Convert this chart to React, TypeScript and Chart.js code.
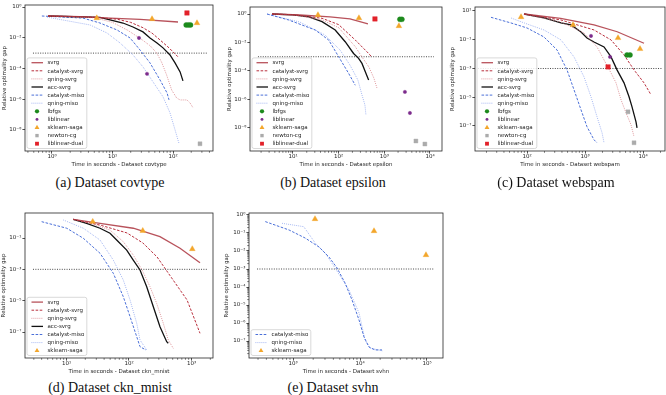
import { useEffect, useRef } from "react";
import { Chart, registerables } from "chart.js";

Chart.register(...registerables);

type Pt = [number, number];

// ---------- covtype: time in seconds -> relative optimality gap ----------
const covSvrg: Pt[] = [[0.86, 0.26], [2.9, 0.24], [9.1, 0.19], [28.5, 0.155], [121, 0.106]];
const covCatSvrg: Pt[] = [[0.86, 0.26], [5, 0.22], [12, 0.16], [20, 0.1], [31.9, 0.045], [45, 0.02], [61, 7.2e-3], [85.9, 2.2e-3], [121, 5.7e-4]];
const covQnSvrg: Pt[] = [[0.86, 0.26], [5, 0.2], [10, 0.1], [18, 0.03], [30, 8e-3], [42, 3e-3], [54, 1e-3], [65, 2.5e-4], [78, 4e-5], [95, 4e-6], [115, 1.2e-6], [131, 9e-7], [170, 9e-7], [191, 5.8e-7], [214, 2.8e-7]];
const covAccSvrg: Pt[] = [[0.86, 0.26], [6.2, 0.21], [9.1, 0.143], [14.9, 0.091], [21.8, 0.05], [31.9, 0.024], [41.7, 9.7e-3], [54.4, 4.6e-3], [68.4, 2.2e-3], [89.2, 7.6e-4], [108, 2.3e-4], [131, 6e-5], [146, 1.57e-5]];
const covCatMiso: Pt[] = [[0.68, 0.26], [3.25, 0.19], [6.2, 0.091], [11.9, 0.032], [19.5, 9.7e-3], [28.5, 1.6e-3], [41.7, 2.3e-4], [61, 1.8e-5], [79.6, 2.6e-6], [85.9, 9.1e-7]];
const covQnMiso: Pt[] = [[0.83, 0.22], [4.25, 0.068], [8.1, 0.0205], [13.3, 4.6e-3], [21.8, 7.6e-4], [31.9, 1.27e-4], [46.7, 1.35e-5], [68.4, 1.43e-6], [89.2, 1.3e-7], [108, 1.03e-8], [126, 1.27e-9]];
const covLbfgs: Pt[] = [[165, 0.068], [180, 0.068], [195, 0.068]];
const covLiblinear: Pt[] = [[27.4, 9.7e-3], [37.2, 4.5e-5]];
const covSaga: Pt[] = [[5.5, 0.19], [45, 0.166], [249, 0.091]];
const covNewton: Pt[] = [[279, 1.27e-9]];
const covLibDual: Pt[] = [[170, 0.41]];
const covTarget: Pt[] = [[0.485, 1e-3], [379, 1e-3]];

// ---------- epsilon ----------
const epsSvrg: Pt[] = [[3.47, 1.0], [14.2, 0.85], [64.6, 0.62], [177, 0.45], [438, 0.2]];
const epsCatSvrg: Pt[] = [[3.47, 1.0], [10, 0.9], [43.2, 0.5], [100, 0.18], [231, 0.015], [453, 1.7e-3], [535, 9.3e-4]];
const epsQnSvrg: Pt[] = [[3.47, 1.0], [10, 0.88], [43.2, 0.38], [100, 0.11], [231, 5.1e-3], [324, 9.6e-4], [460, 1.9e-4], [590, 3.2e-5], [689, 6.4e-6]];
const epsAccSvrg: Pt[] = [[3.47, 1.0], [10, 0.88], [22.4, 0.62], [43.2, 0.29], [84, 0.075], [139, 0.0113], [212, 1.7e-3], [273, 7.7e-4], [324, 3.4e-4], [383, 9e-5], [453, 2.3e-5]];
const epsCatMiso: Pt[] = [[2.7, 1.0], [8.05, 0.38], [30.8, 0.075], [60.4, 0.015], [100, 1e-3], [165, 6.9e-5], [231, 1e-5]];
const epsQnMiso: Pt[] = [[2.7, 1.0], [14.2, 0.27], [50.1, 0.034], [107, 3e-3], [177, 2.6e-4], [264, 2.3e-5], [324, 2.1e-6], [376, 4.1e-7], [396, 8.2e-8]];
const epsLbfgs: Pt[] = [[2193, 0.42], [2427, 0.42]];
const epsLiblinear: Pt[] = [[2823, 3.4e-6], [3634, 1.13e-7]];
const epsSaga: Pt[] = [[35.2, 0.85], [278, 0.52], [2086, 0.144]];
const epsNewton: Pt[] = [[4914, 1.22e-9], [7727, 7.5e-10]];
const epsLibDual: Pt[] = [[623, 0.45]];
const epsTarget: Pt[] = [[1.71, 1e-3], [12170, 1e-3]];

// ---------- webspam ----------
const spamSvrg: Pt[] = [[88.7, 6.19], [380, 3.1], [1429, 1.07], [3590, 0.36], [10400, 0.057]];
const spamCatSvrg: Pt[] = [[88.7, 6.19], [385, 2.37], [1429, 0.48], [2808, 0.097], [4703, 8.8e-3], [6998, 8e-4], [10400, 1e-4], [13740, 1.47e-5]];
const spamQnSvrg: Pt[] = [[88.7, 6.19], [385, 1.72], [961, 0.297], [1610, 0.0316], [2127, 3.95e-3], [2808, 4.9e-4], [3424, 1e-4], [4178, 6.6e-6], [5094, 8.3e-7], [6211, 1.21e-7], [6998, 1.78e-8]];
const spamAccSvrg: Pt[] = [[88.7, 6.19], [196, 3.27], [385, 1.47], [574, 1.07], [853, 0.348], [1082, 0.133], [1429, 0.07], [2127, 0.0316], [2808, 6.4e-3], [3562, 8e-4], [4703, 1e-4], [5737, 1.07e-5], [6462, 2.15e-6], [7570, 1.96e-7], [7880, 7.5e-8]];
const spamCatMiso: Pt[] = [[23.9, 3.65], [53, 1.47], [100, 0.66], [196, 0.156], [329, 0.0196], [489, 8e-4], [646, 3.3e-5], [853, 1.33e-6], [1082, 8.8e-8], [1429, 1.1e-8], [1610, 6.8e-9]];
const spamQnMiso: Pt[] = [[53, 3.27], [100, 1.25], [196, 0.48], [385, 0.097], [646, 6.4e-3], [961, 2.6e-4], [1268, 1.07e-5], [1610, 4.4e-7], [1965, 3.4e-8], [2127, 6.8e-9]];
const spamLbfgs: Pt[] = [[5298, 8.8e-3], [5969, 8.8e-3]];
const spamLiblinear: Pt[] = [[1268, 0.184], [2700, 6.4e-3]];
const spamSaga: Pt[] = [[78.9, 3.83], [621, 1.07], [3706, 0.133], [8878, 0.023]];
const spamNewton: Pt[] = [[5513, 9.7e-7], [6998, 6.8e-9]];
const spamLibDual: Pt[] = [[2495, 1.29e-3]];
const spamTarget: Pt[] = [[14.3, 1e-3], [21300, 1e-3]];

// ---------- ckn_mnist ----------
const mnSvrg: Pt[] = [[12.8, 1.56], [34.4, 0.87], [117, 0.42], [313, 0.121], [655, 0.022], [1368, 2.65e-3]];
const mnCatSvrg: Pt[] = [[12.8, 1.56], [34.4, 0.67], [92.9, 0.21], [167, 0.048], [281, 6.2e-3], [453, 4e-4], [848, 1.12e-5], [1368, 8.3e-8]];
const mnQnSvrg: Pt[] = [[12.8, 1.56], [26.8, 0.78], [49.7, 0.32], [81, 0.058], [117, 8.2e-3], [160, 1e-3], [217, 7.8e-5], [277, 6.8e-6], [354, 3.6e-7], [425, 3.1e-8], [511, 9.1e-9]];
const mnAccSvrg: Pt[] = [[12.8, 1.56], [21, 0.87], [34.4, 0.42], [49.7, 0.2], [63.5, 0.074], [91.9, 0.017], [117, 3.9e-3], [150, 9.1e-4], [192, 7.8e-5], [245, 4.1e-6], [313, 2.2e-7], [401, 2.4e-8], [425, 1.9e-8]];
const mnCatMiso: Pt[] = [[4, 1.1], [10.1, 0.42], [18.6, 0.096], [34.4, 0.0106], [56.1, 5.6e-4], [81, 1.8e-5], [104, 9.5e-7], [133, 5e-8], [150, 1.16e-8], [187, 7.1e-9]];
const mnQnMiso: Pt[] = [[8.9, 1.41], [18.6, 0.42], [34.4, 0.074], [56.1, 3.9e-3], [81, 2.1e-4], [104, 1.1e-5], [133, 3.6e-7], [150, 3.1e-8], [192, 7.1e-9]];
const mnSaga: Pt[] = [[26.3, 1.1], [166, 0.29], [1030, 0.0199]];
const mnTarget: Pt[] = [[2.91, 1e-3], [1837, 1e-3]];

// ---------- svhn ----------
const svCatMiso: Pt[] = [[385, 0.43], [871, 0.147], [1510, 0.053], [2443, 0.0167], [3447, 4.6e-3], [4540, 1.14e-3], [5976, 1.67e-4], [7600, 1.9e-5], [9668, 1.47e-6], [11480, 1.67e-7], [13630, 4.6e-8], [16740, 3.2e-8], [21300, 3.2e-8]];
const svQnMiso: Pt[] = [[685, 0.345], [1443, 0.225], [2154, 0.027], [3040, 7.4e-3], [4237, 1.14e-3], [6855, 6.8e-5], [9668, 3.6e-6], [11880, 1.14e-7], [14100, 4.1e-8], [22030, 2.8e-8]];
const svSaga: Pt[] = [[2128, 0.6], [16180, 0.129], [96600, 6e-3]];
const svTarget: Pt[] = [[290, 1e-3], [127000, 1e-3]];

// ---------- tick values ----------
const evenDecadeTicks = [1e-8, 1e-6, 1e-4, 1e-2, 1];
const webspamYTicks = [1e-7, 1e-5, 1e-3, 1e-1, 10];
const mnistYTicks = [1e-7, 1e-5, 1e-3, 1e-1];
const svhnYTicks = [1e-7, 1e-6, 1e-5, 1e-4, 1e-3, 1e-2, 1e-1, 1];
const covXTicks = [1, 10, 100];
const epsXTicks = [10, 100, 1000, 10000];
const spamXTicks = [100, 1000, 10000];
const mnXTicks = [10, 100, 1000];
const svXTicks = [1000, 10000, 100000];

const SANS = '"DejaVu Sans", sans-serif';
const INK = "#262626";
const FS = 5.5;

type Style =
  | { kind: "line"; color: string; width: number; dash: number[] }
  | { kind: "marker"; color: string; shape: string; radius: number };

const STYLES: Record<string, Style> = {
  svrg: { kind: "line", color: "rgba(172,52,62,0.85)", width: 1.3, dash: [] },
  "catalyst-svrg": { kind: "line", color: "#b9303e", width: 1, dash: [2.6, 1.5] },
  "qning-svrg": { kind: "line", color: "#d9858b", width: 1, dash: [0.8, 1.2] },
  "acc-svrg": { kind: "line", color: "#111111", width: 1.3, dash: [] },
  "catalyst-miso": { kind: "line", color: "#4a6fd8", width: 1, dash: [2.6, 1.5] },
  "qning-miso": { kind: "line", color: "#93a9ef", width: 1, dash: [0.8, 1.2] },
  lbfgs: { kind: "marker", color: "#1d8a1d", shape: "circle", radius: 2.5 },
  liblinear: { kind: "marker", color: "#7c2b8c", shape: "circle", radius: 1.7 },
  "sklearn-saga": { kind: "marker", color: "#f3a62b", shape: "triangle", radius: 3.3 },
  "newton-cg": { kind: "marker", color: "#ababab", shape: "rect", radius: 2.8 },
  "liblinear-dual": { kind: "marker", color: "#e2222a", shape: "rect", radius: 3.2 },
};

const SUP: Record<string, string> = {
  "0": "⁰", "1": "¹", "2": "²", "3": "³", "4": "⁴", "5": "⁵", "6": "⁶", "7": "⁷", "8": "⁸", "9": "⁹", "-": "⁻",
};
const powLabel = (v: number) =>
  "10" + String(Math.round(Math.log10(v))).split("").map((c) => SUP[c]).join("");

interface PanelSpec {
  key: string;
  caption: string;
  captionX: number;
  captionY: number;
  xTitle: string;
  frame: { left: number; top: number; right: number; bottom: number };
  yTitleGap: number;
  xRange: [number, number];
  yRange: [number, number];
  xTicks: number[];
  yTicks: number[];
  minorY: boolean;
  series: [string, Pt[]][];
  target: Pt[];
}

const PANELS: PanelSpec[] = [
  {
    key: "a", caption: "(a) Dataset covtype", captionX: 110, captionY: 183,
    xTitle: "Time in seconds - Dataset covtype",
    frame: { left: 25, top: 5, right: 213, bottom: 151 }, yTitleGap: 20.5,
    xRange: [0.358, 458], yRange: [4.3e-10, 1.35], xTicks: covXTicks, yTicks: evenDecadeTicks, minorY: false,
    series: [
      ["svrg", covSvrg], ["catalyst-svrg", covCatSvrg], ["qning-svrg", covQnSvrg], ["acc-svrg", covAccSvrg],
      ["catalyst-miso", covCatMiso], ["qning-miso", covQnMiso], ["lbfgs", covLbfgs], ["liblinear", covLiblinear],
      ["sklearn-saga", covSaga], ["newton-cg", covNewton], ["liblinear-dual", covLibDual],
    ],
    target: covTarget,
  },
  {
    key: "b", caption: "(b) Dataset epsilon", captionX: 333, captionY: 183,
    xTitle: "Time in seconds - Dataset epsilon",
    frame: { left: 250, top: 7, right: 442, bottom: 151 }, yTitleGap: 20,
    xRange: [1.144, 18320], yRange: [2.43e-10, 3.1], xTicks: epsXTicks, yTicks: evenDecadeTicks, minorY: false,
    series: [
      ["svrg", epsSvrg], ["catalyst-svrg", epsCatSvrg], ["qning-svrg", epsQnSvrg], ["acc-svrg", epsAccSvrg],
      ["catalyst-miso", epsCatMiso], ["qning-miso", epsQnMiso], ["lbfgs", epsLbfgs], ["liblinear", epsLiblinear],
      ["sklearn-saga", epsSaga], ["newton-cg", epsNewton], ["liblinear-dual", epsLibDual],
    ],
    target: epsTarget,
  },
  {
    key: "c", caption: "(c) Dataset webspam", captionX: 556, captionY: 183,
    xTitle: "Time in seconds - Dataset webspam",
    frame: { left: 475, top: 7, right: 665, bottom: 151 }, yTitleGap: 22.7,
    xRange: [12.68, 23930], yRange: [1.82e-9, 18.97], xTicks: spamXTicks, yTicks: webspamYTicks, minorY: false,
    series: [
      ["svrg", spamSvrg], ["catalyst-svrg", spamCatSvrg], ["qning-svrg", spamQnSvrg], ["acc-svrg", spamAccSvrg],
      ["catalyst-miso", spamCatMiso], ["qning-miso", spamQnMiso], ["lbfgs", spamLbfgs], ["liblinear", spamLiblinear],
      ["sklearn-saga", spamSaga], ["newton-cg", spamNewton], ["liblinear-dual", spamLibDual],
    ],
    target: spamTarget,
  },
  {
    key: "d", caption: "(d) Dataset ckn_mnist", captionX: 110, captionY: 388,
    xTitle: "Time in seconds - Dataset ckn_mnist",
    frame: { left: 25, top: 213, right: 213, bottom: 358 }, yTitleGap: 21,
    xRange: [2.168, 2208], yRange: [2.2e-9, 3.94], xTicks: mnXTicks, yTicks: mnistYTicks, minorY: false,
    series: [
      ["svrg", mnSvrg], ["catalyst-svrg", mnCatSvrg], ["qning-svrg", mnQnSvrg], ["acc-svrg", mnAccSvrg],
      ["catalyst-miso", mnCatMiso], ["qning-miso", mnQnMiso], ["sklearn-saga", mnSaga],
    ],
    target: mnTarget,
  },
  {
    key: "e", caption: "(e) Dataset svhn", captionX: 333, captionY: 388,
    xTitle: "Time in seconds - Dataset svhn",
    frame: { left: 249, top: 213, right: 443, bottom: 358 }, yTitleGap: 22,
    xRange: [220, 173400], yRange: [1.14e-8, 1.29], xTicks: svXTicks, yTicks: svhnYTicks, minorY: true,
    series: [["catalyst-miso", svCatMiso], ["qning-miso", svQnMiso], ["sklearn-saga", svSaga]],
    target: svTarget,
  },
];

const GUTTER = 28;
const PAD_T = 6;
const PAD_R = 6;
const X_BAND = 18;

// Axes frame plus short minor tick marks on the log axes.
const frameAndMinorTicks = {
  id: "frameAndMinorTicks",
  afterDatasetsDraw(chart: any, _args: any, opts: any) {
    const { ctx, chartArea: a, scales } = chart;
    ctx.save();
    ctx.strokeStyle = INK;
    ctx.lineWidth = 0.6;
    const minor = (scale: any, horizontal: boolean) => {
      const lo = Math.floor(Math.log10(scale.min));
      const hi = Math.ceil(Math.log10(scale.max));
      ctx.beginPath();
      for (let d = lo; d <= hi; d++) {
        for (let k = 2; k <= 9; k++) {
          const v = k * Math.pow(10, d);
          if (v < scale.min || v > scale.max) continue;
          const p = scale.getPixelForValue(v);
          if (horizontal) {
            ctx.moveTo(p, a.bottom);
            ctx.lineTo(p, a.bottom + 1.8);
          } else {
            ctx.moveTo(a.left, p);
            ctx.lineTo(a.left - 1.8, p);
          }
        }
      }
      ctx.stroke();
    };
    minor(scales.x, true);
    if (opts && opts.minorY) minor(scales.y, false);
    ctx.lineWidth = 0.8;
    ctx.strokeRect(a.left, a.top, a.right - a.left, a.bottom - a.top);
    ctx.restore();
  },
};

// Legend box in the lower-left corner of the plotting area.
const insetLegend = {
  id: "insetLegend",
  afterDraw(chart: any) {
    const { ctx, chartArea: a } = chart;
    const sets = chart.data.datasets.filter((d: any) => d.label);
    const rowH = 8.1;
    ctx.save();
    ctx.font = `${FS}px ${SANS}`;
    const textW = Math.max(...sets.map((s: any) => ctx.measureText(s.label).width));
    const boxL = a.left + 2;
    const boxW = 20.5 + textW + 2.5;
    const boxH = sets.length * rowH + 1.5;
    const boxB = a.bottom - 2.5;
    const boxT = boxB - boxH;
    ctx.beginPath();
    ctx.roundRect(boxL, boxT, boxW, boxH, 2);
    ctx.fillStyle = "rgba(255,255,255,0.85)";
    ctx.fill();
    ctx.strokeStyle = "#cfcfcf";
    ctx.lineWidth = 0.8;
    ctx.stroke();
    sets.forEach((s: any, i: number) => {
      const cy = boxT + 0.75 + rowH * (i + 0.5);
      const st = STYLES[s.label];
      if (st.kind === "line") {
        ctx.save();
        ctx.strokeStyle = st.color;
        ctx.lineWidth = st.width;
        ctx.setLineDash(st.dash);
        ctx.beginPath();
        ctx.moveTo(boxL + 4.5, cy);
        ctx.lineTo(boxL + 16, cy);
        ctx.stroke();
        ctx.restore();
      } else {
        const cx = boxL + 10;
        const r = st.radius * 0.85;
        ctx.fillStyle = st.color;
        ctx.beginPath();
        if (st.shape === "circle") {
          ctx.arc(cx, cy, r, 0, Math.PI * 2);
        } else if (st.shape === "triangle") {
          ctx.moveTo(cx, cy - r);
          ctx.lineTo(cx + r * 0.866, cy + r * 0.5);
          ctx.lineTo(cx - r * 0.866, cy + r * 0.5);
          ctx.closePath();
        } else {
          const h = r * 0.7071;
          ctx.rect(cx - h, cy - h, 2 * h, 2 * h);
        }
        ctx.fill();
      }
      ctx.fillStyle = INK;
      ctx.textAlign = "left";
      ctx.textBaseline = "middle";
      ctx.fillText(s.label, boxL + 20.5, cy + 0.3);
    });
    ctx.restore();
  },
};

function LogPanel({ spec }: { spec: PanelSpec }) {
  const canvasRef = useRef<HTMLCanvasElement | null>(null);
  const f = spec.frame;
  const w = GUTTER + (f.right - f.left) + PAD_R;
  const h = PAD_T + (f.bottom - f.top) + X_BAND;

  useEffect(() => {
    const canvas = canvasRef.current;
    if (!canvas) return;
    const datasets: any[] = spec.series.map(([name, pts]) => {
      const st = STYLES[name];
      const data = pts.map(([x, y]) => ({ x, y }));
      if (st.kind === "line") {
        return {
          label: name, data, showLine: true, borderColor: st.color, backgroundColor: st.color,
          borderWidth: st.width, borderDash: st.dash, pointRadius: 0, tension: 0, order: 2,
        };
      }
      return {
        label: name, data, showLine: false, pointStyle: st.shape, pointRadius: st.radius,
        pointBackgroundColor: st.color, pointBorderColor: st.color, pointBorderWidth: 0.4, order: 1,
      };
    });
    datasets.push({
      label: "", data: spec.target.map(([x, y]) => ({ x, y })), showLine: true,
      borderColor: "#333333", borderWidth: 0.9, borderDash: [1, 1.4], pointRadius: 0, order: 3,
    });

    const tickFont = { family: SANS, size: FS, lineHeight: 1.2 };
    const chart = new Chart(canvas, {
      type: "scatter",
      data: { datasets },
      plugins: [frameAndMinorTicks, insetLegend],
      options: {
        animation: false,
        responsive: false,
        events: [],
        layout: { padding: { left: 0, top: PAD_T, right: PAD_R, bottom: 0 } },
        plugins: {
          legend: { display: false },
          tooltip: { enabled: false },
          frameAndMinorTicks: { minorY: spec.minorY },
        } as any,
        scales: {
          x: {
            type: "logarithmic",
            min: spec.xRange[0],
            max: spec.xRange[1],
            bounds: "data",
            afterBuildTicks: (s: any) => {
              s.ticks = spec.xTicks.map((v) => ({ value: v }));
            },
            afterFit: (s: any) => {
              s.height = X_BAND;
              s.paddingLeft = 0;
              s.paddingRight = 0;
            },
            ticks: {
              callback: (v: any) => powLabel(Number(v)),
              font: tickFont, color: INK, padding: 0, autoSkip: false, maxRotation: 0, minRotation: 0,
            },
            grid: { display: true, drawOnChartArea: false, drawTicks: true, tickLength: 2.6, tickColor: INK, tickWidth: 0.8 },
            border: { display: false },
            title: { display: true, text: spec.xTitle, color: INK, font: tickFont, padding: { top: 0, bottom: 0.7 } },
          },
          y: {
            type: "logarithmic",
            min: spec.yRange[0],
            max: spec.yRange[1],
            bounds: "data",
            afterBuildTicks: (s: any) => {
              s.ticks = spec.yTicks.map((v) => ({ value: v }));
            },
            afterFit: (s: any) => {
              s.width = GUTTER;
              s.paddingTop = 0;
              s.paddingBottom = 0;
            },
            ticks: {
              callback: (v: any) => powLabel(Number(v)),
              font: tickFont, color: INK, padding: 1, autoSkip: false,
            },
            grid: { display: true, drawOnChartArea: false, drawTicks: true, tickLength: 2.6, tickColor: INK, tickWidth: 0.8 },
            border: { display: false },
            title: {
              display: true, text: "Relative optimality gap", color: INK, font: tickFont,
              padding: { top: GUTTER - spec.yTitleGap - FS * 0.6, bottom: 0 },
            },
          },
        },
      } as any,
    });
    return () => chart.destroy();
  }, [spec]);

  return (
    <>
      <canvas
        ref={canvasRef}
        width={w}
        height={h}
        style={{ position: "absolute", left: f.left - GUTTER, top: f.top - PAD_T, width: w, height: h }}
      />
      <div
        style={{
          position: "absolute", left: spec.captionX - 110, width: 220, top: spec.captionY - 9,
          textAlign: "center", fontFamily: '"Liberation Serif", serif', fontSize: 14,
          lineHeight: "18px", color: "#111", whiteSpace: "nowrap",
        }}
      >
        {spec.caption}
      </div>
    </>
  );
}

export default function App() {
  return (
    <div
      style={{
        position: "absolute", left: 0, top: 0, width: 666, height: 395,
        overflow: "hidden", background: "#ffffff",
      }}
    >
      {PANELS.map((p) => (
        <LogPanel key={p.key} spec={p} />
      ))}
    </div>
  );
}
